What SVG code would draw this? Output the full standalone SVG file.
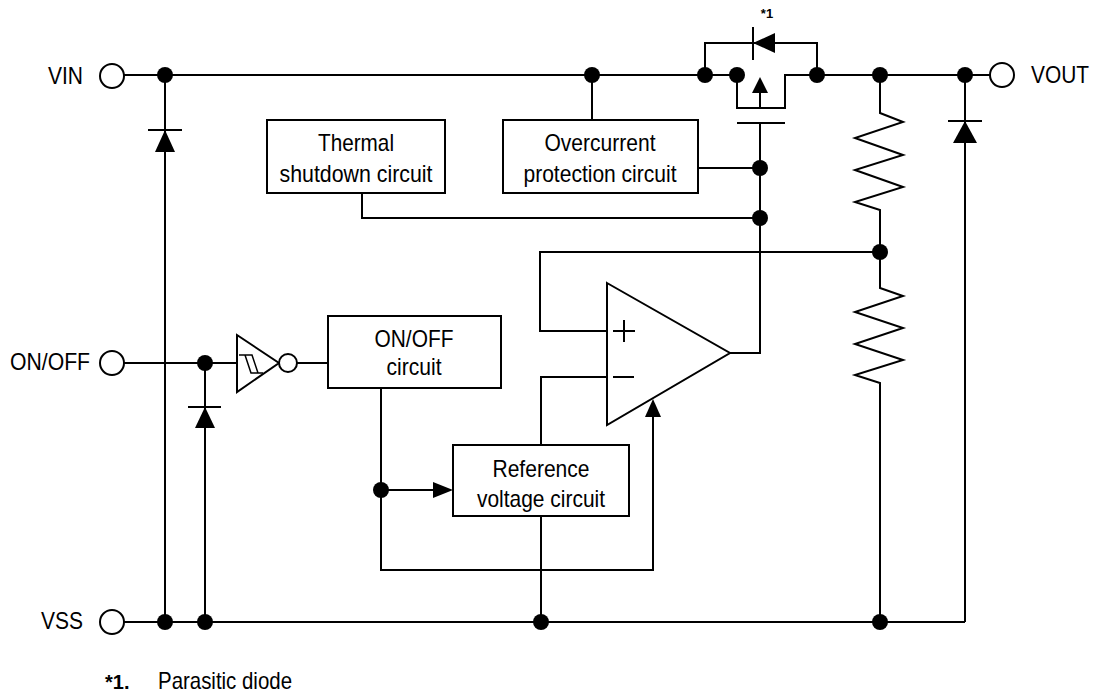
<svg xmlns="http://www.w3.org/2000/svg" width="1097" height="696" viewBox="0 0 1097 696">
<style>
.w{fill:none;stroke:#000;stroke-width:2}
.b{fill:#fff;stroke:#000;stroke-width:2}
.f{fill:#000;stroke:none}
.t{font-family:"Liberation Sans",Arial,sans-serif;font-size:24px;fill:#000}
.c{text-anchor:middle}
</style>
<rect width="1097" height="696" fill="#fff"/>
<g id="connectors">
<path class="w" d="M124,75 H705 M737,75 H705 M817,75 H990"/>
<path class="w" d="M705,75 V43 H817 V75"/>
<path class="w" d="M753,27 V60"/>
<path class="w" d="M737,75 V108 H785 V75 H817 M760,93 V108"/>
<path class="w" d="M737,123 H785 M760,123 V353 H730"/>
<path class="w" d="M592,75 V120 M698,168 H760 M362,193 V218 H760"/>
<path class="w" d="M880,75 V113 L903,122 L855,138 L903,155 L855,170 L903,187 L855,202 L880,210 V288 L903,296 L855,312 L903,328 L855,344 L903,360 L855,375 L880,383 V622"/>
<path class="w" d="M607,331 H540 V252 H880"/>
<path class="w" d="M607,377 H541 V445 M541,516 V622"/>
<path class="w" d="M381,388 V570 H653 V416 M381,490 H437"/>
<path class="w" d="M965,75 V622 M948,121 H982"/>
<path class="w" d="M165,75 V622 M148,130 H182"/>
<path class="w" d="M124,363 H237 M297,363 H328 M205,363 V622 M188,407 H221"/>
<path class="w" d="M124,622 H965"/>
<polygon class="f" points="753,43 775,33 775,53"/>
<polygon class="f" points="760,77 752,93 768,93"/>
<polygon class="f" points="965,121 953,143 977,143"/>
<polygon class="f" points="165,130 155,152 175,152"/>
<polygon class="f" points="205,407 195,428 215,428"/>
<polygon class="f" points="653,399 645,417 661,417"/>
<polygon class="f" points="453,490 433,482 433,498"/>
<g class="f">
<circle cx="165" cy="75" r="8"/><circle cx="592" cy="75" r="8"/><circle cx="705" cy="75" r="8"/><circle cx="737" cy="75" r="8"/><circle cx="817" cy="75" r="8"/><circle cx="880" cy="75" r="8"/><circle cx="965" cy="75" r="8"/>
<circle cx="760" cy="168" r="8"/><circle cx="760" cy="218" r="8"/><circle cx="880" cy="252" r="8"/><circle cx="205" cy="363" r="8"/><circle cx="381" cy="490" r="8"/>
<circle cx="165" cy="622" r="8"/><circle cx="205" cy="622" r="8"/><circle cx="541" cy="622" r="8"/><circle cx="880" cy="622" r="8"/>
</g>
</g>
<g id="vin"><circle class="b" cx="112" cy="76" r="12"/><text class="t" x="83" y="84" text-anchor="end" textLength="35" lengthAdjust="spacingAndGlyphs">VIN</text></g>
<g id="vout"><circle class="b" cx="1002" cy="75" r="12"/><text class="t" x="1031" y="83" textLength="58" lengthAdjust="spacingAndGlyphs">VOUT</text></g>
<g id="onoff-pin"><circle class="b" cx="112" cy="363" r="12"/><text class="t" x="90" y="370" text-anchor="end" textLength="80" lengthAdjust="spacingAndGlyphs">ON/OFF</text></g>
<g id="vss"><circle class="b" cx="112" cy="622" r="12"/><text class="t" x="83" y="629" text-anchor="end" textLength="42" lengthAdjust="spacingAndGlyphs">VSS</text></g>
<g id="diode-label"><text x="767" y="18" text-anchor="middle" style="font-family:'Liberation Sans',Arial,sans-serif;font-size:13px;font-weight:bold">*1</text></g>
<g id="thermal"><rect class="b" x="267" y="120" width="178" height="73"/><text class="t c" x="356" y="151" textLength="76" lengthAdjust="spacingAndGlyphs">Thermal</text><text class="t c" x="356" y="182" textLength="153" lengthAdjust="spacingAndGlyphs">shutdown circuit</text></g>
<g id="overcurrent"><rect class="b" x="503" y="120" width="195" height="73"/><text class="t c" x="600" y="151" textLength="111" lengthAdjust="spacingAndGlyphs">Overcurrent</text><text class="t c" x="600" y="182" textLength="153" lengthAdjust="spacingAndGlyphs">protection circuit</text></g>
<g id="onoff-circuit"><rect class="b" x="328" y="316" width="173" height="72"/><text class="t c" x="414" y="347" textLength="79" lengthAdjust="spacingAndGlyphs">ON/OFF</text><text class="t c" x="414" y="375" textLength="55" lengthAdjust="spacingAndGlyphs">circuit</text></g>
<g id="reference"><rect class="b" x="453" y="445" width="176" height="71"/><text class="t c" x="541" y="477" textLength="97" lengthAdjust="spacingAndGlyphs">Reference</text><text class="t c" x="541" y="507" textLength="128" lengthAdjust="spacingAndGlyphs">voltage circuit</text></g>
<g id="opamp"><polygon class="b" points="607,283 730,353 607,425"/><path class="w" d="M613,331 H635 M624,320 V342 M613,377 H634"/></g>
<g id="schmitt"><polygon class="b" points="237,335 279,363 237,392"/><circle class="b" cx="288" cy="363" r="9"/><path class="w" style="stroke-width:1.5" d="M239,355 H252 L258,373 M245,355 L251,373 H263"/></g>
<g id="footnote"><text x="105" y="689" style="font-family:'Liberation Sans',Arial,sans-serif;font-size:20px;font-weight:bold">*1.</text><text class="t" x="158" y="689" textLength="134" lengthAdjust="spacingAndGlyphs">Parasitic diode</text></g>
</svg>
